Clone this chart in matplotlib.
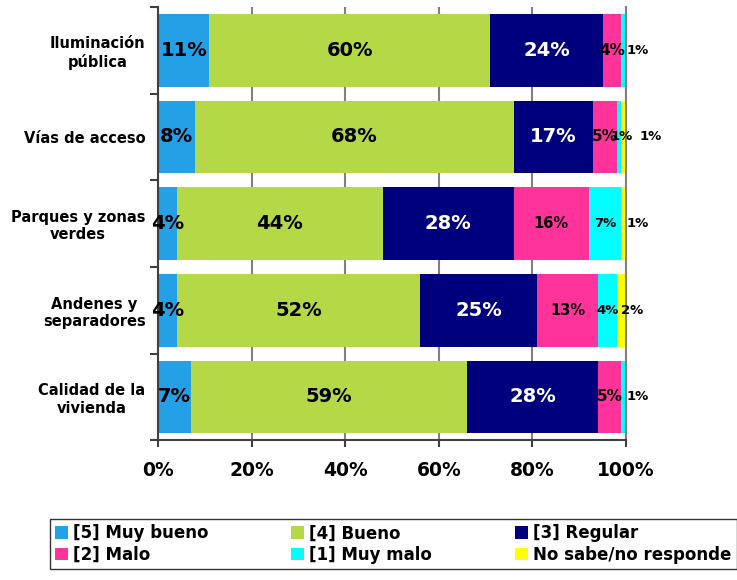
import matplotlib.pyplot as plt
from matplotlib.patches import Patch

categories = [
    "Iluminación\npública",
    "Vías de acceso",
    "Parques y zonas\nverdes",
    "Andenes y\nseparadores",
    "Calidad de la\nvivienda",
]
series_names = [
    "[5] Muy bueno",
    "[4] Bueno",
    "[3] Regular",
    "[2] Malo",
    "[1] Muy malo",
    "No sabe/no responde",
]
muy_bueno = [11, 8, 4, 4, 7]
bueno = [60, 68, 44, 52, 59]
regular = [24, 17, 28, 25, 28]
malo = [4, 5, 16, 13, 5]
muy_malo = [1, 1, 7, 4, 1]
no_sabe = [0, 1, 1, 2, 0]
x_ticks = [0, 20, 40, 60, 80, 100]

colors = ["#23A0E6", "#B4D846", "#00007E", "#FF3399", "#00FFFF", "#FFFF00"]
text_colors = ["black", "black", "white", "black", "black", "black"]
label_sizes = [14, 14, 14, 10.5, 9.5, 9.5]

series = [muy_bueno, bueno, regular, malo, muy_malo, no_sabe]

fig = plt.figure(figsize=(7.37, 5.8), dpi=100)
ax = fig.add_axes([0.2144, 0.241, 0.635, 0.747])
ax.set_axisbelow(True)
ax.grid(axis="x", color="#808080", linewidth=1.5)

y = list(range(len(categories)))
left = [0] * len(categories)
for k, (values, color) in enumerate(zip(series, colors)):
    ax.barh(y, values, left=left, height=0.84, color=color, edgecolor="none")
    for i, v in enumerate(values):
        if v <= 0:
            continue
        center = left[i] + v / 2
        size = label_sizes[k]
        if k == 3 and v <= 5:
            size = 11
        # small slices at the end of the bar get their labels nudged outside
        if k >= 4 and sum(s[i] for s in series[k + 1:]) == 0:
            if v == 1:
                center = 105.3 if muy_malo[i] == 1 and k == 5 else 102.6
            elif v == 2:
                center = 101.3
        if k == 4 and v == 1 and no_sabe[i] > 0:
            center += 0.5
        ax.text(center, i, f"{v}%", ha="center", va="center",
                fontsize=size, fontweight="bold", color=text_colors[k],
                clip_on=False)
        left[i] += v

ax.set_xlim(0, 100)
ax.set_ylim(len(categories) - 0.5, -0.5)
ax.set_xticks(x_ticks)
ax.set_xticklabels([f"{t}%" for t in x_ticks], fontsize=13.5, fontweight="bold")
ax.set_yticks(y)
ax.set_yticklabels(categories, fontsize=10.5, fontweight="bold",
                   multialignment="center")
ax.tick_params(axis="y", length=0, pad=9)
ax.set_yticks([i + 0.5 for i in range(-1, len(categories))], minor=True)
ax.tick_params(axis="y", which="minor", length=6, width=1.5, color="#404040")
ax.tick_params(axis="x", length=5, width=1.5, color="#404040", pad=10)

for side in ["left", "bottom", "right"]:
    ax.spines[side].set_color("#808080")
    ax.spines[side].set_linewidth(1.5)
ax.spines["left"].set_color("#404040")
ax.spines["bottom"].set_color("#404040")
ax.spines["top"].set_visible(False)

handles = [Patch(facecolor=c, edgecolor="none") for c in colors]
order = [0, 3, 1, 4, 2, 5]
leg = fig.legend([handles[j] for j in order], [series_names[j] for j in order],
                 ncol=3, loc="lower left", bbox_to_anchor=(0.056, 0.005, 0.955, 0.086),
                 mode="expand", prop={"size": 12, "weight": "bold"},
                 frameon=True, fancybox=False, edgecolor="black",
                 handlelength=0.8, handleheight=0.8, handletextpad=0.3,
                 borderpad=0.3, labelspacing=0.2, columnspacing=1.0)
leg.get_frame().set_linewidth(1.0)

fig.savefig("out.png", dpi=100)
